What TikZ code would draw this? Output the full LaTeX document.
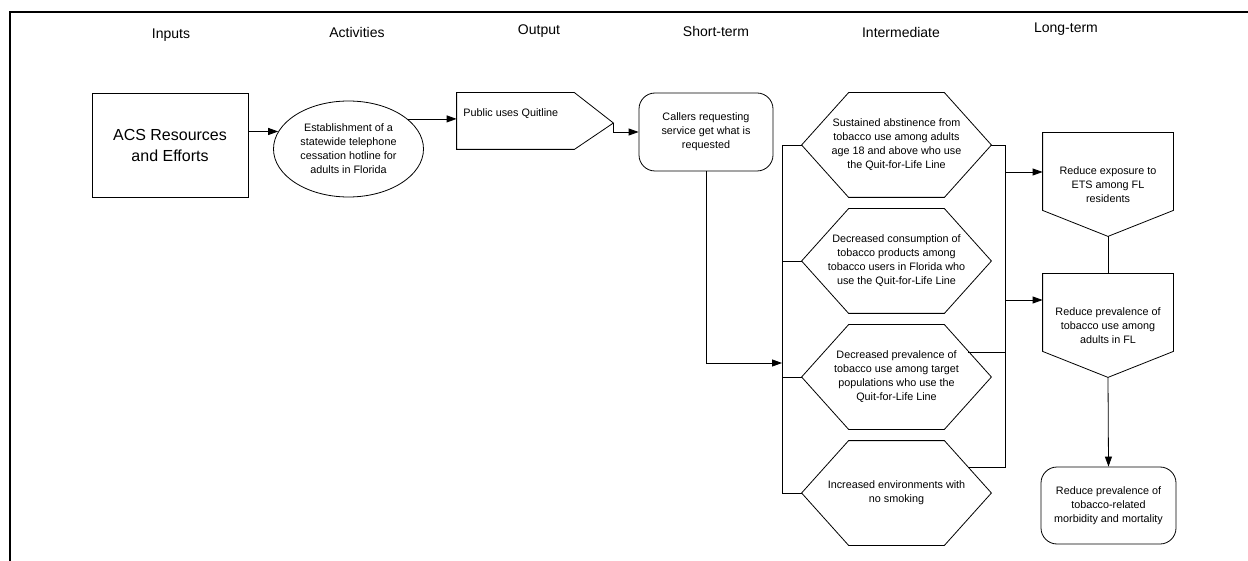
\documentclass[tikz,border=0pt]{standalone}
\usepackage{fontspec}
\setmainfont{Liberation Sans}
\usetikzlibrary{shapes.geometric,arrows.meta,calc}
\begin{document}
\begin{tikzpicture}[x=1pt,y=-1pt,
  line width=0.8pt,
  arr/.style={-{Triangle[length=10pt,width=7pt]}},
  hdr/.style={font=\fontsize{14}{17}\selectfont, anchor=base},
  small/.style={font=\fontsize{10.8}{14}\selectfont, align=center, inner sep=0pt},
  hexbox/.style={small, minimum width=189pt, minimum height=104pt},
  penbox/.style={small, minimum width=130pt, minimum height=103pt},
  roundbox/.style={small, draw, rounded corners=16pt}
]
\useasboundingbox (0,0) rectangle (1248,561);
\fill[white] (0,0) rectangle (1248,561);
% frame
\draw[line width=1.4pt] (10,561) -- (10,12) -- (1248,12);

% headers
\node[hdr] (hin)  at (171,39)   {Inputs};
\node[hdr] (hact) at (357,38)   {Activities};
\node[hdr] (hout) at (539,35)   {Output};
\node[hdr] (hst)  at (716,36.5) {Short-term};
\node[hdr] (hint) at (901,38)   {Intermediate};
\node[hdr] (hlt)  at (1066,33)  {Long-term};

% inputs
\node[draw, minimum width=156pt, minimum height=104pt, align=center,
      font=\fontsize{16}{21}\selectfont] (acs) at (170,145) {ACS Resources\\and Efforts};

% activities
\node[draw, ellipse, small, minimum width=150pt, minimum height=96pt] (ell) at (348.5,149)
  {Establishment of a\\statewide telephone\\cessation hotline for\\adults in Florida};

% output pentagon
\node[minimum width=156pt, minimum height=56pt, inner sep=0pt] (out) at (535,121) {};
\draw (out.north west) -- ($(out.north east)+(-39,0)$) -- ($(out.east)+(0,2)$)
      -- ($(out.south east)+(-39,0)$) -- (out.south west) -- cycle;
\coordinate (outtip) at ($(out.east)+(0,2)$);
\node[small, anchor=west] (outtxt) at (463,114) {Public uses Quitline};

% short-term
\node[roundbox, minimum width=134pt, minimum height=78pt] (call) at (706,132)
  {Callers requesting\\service get what is\\requested};

% intermediate hexagons
\node[hexbox] (h1) at (896.5,145) {Sustained abstinence from\\tobacco use among adults\\age 18 and above who use\\the Quit-for-Life Line};
\node[hexbox] (h2) at (896.5,261) {Decreased consumption of\\tobacco products among\\tobacco users in Florida who\\use the Quit-for-Life Line};
\node[hexbox] (h3) at (896.5,377) {Decreased prevalence of\\tobacco use among target\\populations who use the\\Quit-for-Life Line};
\node[hexbox] (h4) at (896.5,493) {Increased environments with\\no smoking};
\foreach \h in {h1,h2,h3,h4}
  \draw (\h.west) -- ($(\h.north west)+(47,0)$) -- ($(\h.north east)+(-47,0)$)
        -- (\h.east) -- ($(\h.south east)+(-47,0)$) -- ($(\h.south west)+(47,0)$) -- cycle;

% long-term
\node[penbox] (p1) at (1108,184.5) {Reduce exposure to\\ETS among FL\\residents};
\node[penbox] (p2) at (1108,325.5) {Reduce prevalence of\\tobacco use among\\adults in FL};
\foreach \p in {p1,p2}
  \draw (\p.north west) -- (\p.north east) -- ($(\p.south east)+(0,-26)$)
        -- (\p.south) -- ($(\p.south west)+(0,-26)$) -- cycle;
\node[roundbox, minimum width=135pt, minimum height=77pt] (fin) at (1108.5,505.5)
  {Reduce prevalence of\\tobacco-related\\morbidity and mortality};

% connectors
\draw[arr] (acs.east |- ell.166.4) -- (ell.166.4);
\draw[arr] (ell.27) -- (ell.27 -| out.west);
\draw[arr] (outtip) |- (call.west);

\coordinate (bl) at (782,363);
\draw[arr] (call.south) |- (bl);
\draw (h1.west) -- (h1.west -| bl) -- (h4.west -| bl) -- (h4.west);
\draw (h2.west) -- (h2.west -| bl);
\draw (h3.west) -- (h3.west -| bl);

\coordinate (br1) at (1005,172);
\coordinate (br2) at (1005,300);
\coordinate (h3r) at ($(h3.east)+(-23.5,-25)$);
\coordinate (h4r) at ($(h4.east)+(-23.5,-26)$);
\draw (h1.east) -- (h1.east -| br1) -- (h4r -| br1) -- (h4r);
\draw (h3r) -- (h3r -| br1);
\draw[arr] (br1) -- (br1 -| p1.west);
\draw[arr] (br2) -- (br2 -| p2.west);
\draw (p1.south) -- (p2.north);
\draw[arr] (p2.south) -- (fin.north);
\end{tikzpicture}
\end{document}
